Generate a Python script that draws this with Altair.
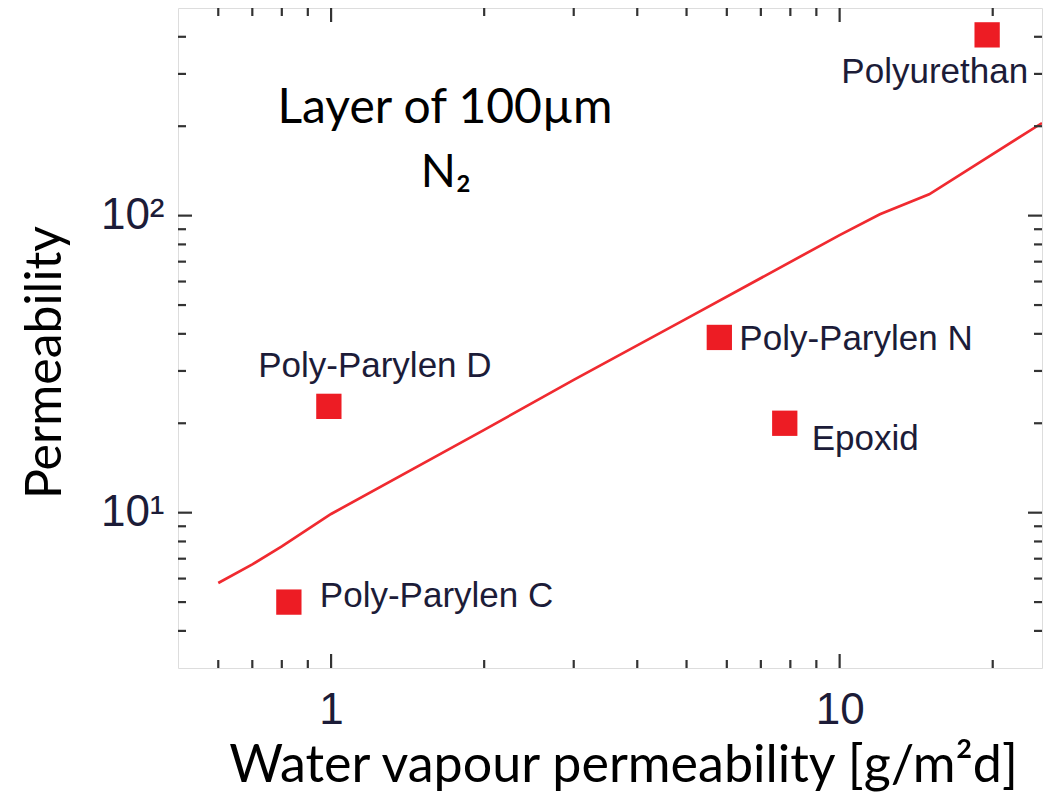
import altair as alt
import pandas as pd

# --- data ---
materials = ["Poly-Parylen C", "Poly-Parylen D", "Poly-Parylen N", "Epoxid", "Polyurethan"]
water_perm = [0.826, 0.99, 5.8, 7.8, 19.5]
n2_perm = [5.0, 22.8, 38.9, 20.0, 406.0]

line_x = [0.6, 0.7, 0.8, 1, 2, 3, 5, 10, 12, 15, 25]
line_y = [5.8, 6.7, 7.7, 9.9, 19.0, 28.0, 45.0, 86.0, 101.0, 118.0, 205.0]

x_major = [1, 10]
x_minor = [0.6, 0.7, 0.8, 0.9, 2, 3, 4, 5, 6, 7, 8, 9, 20]
y_major = [10, 100]
y_minor = [4, 5, 6, 7, 8, 9, 20, 30, 40, 50, 60, 70, 80, 90, 200, 300, 400]

x_tick_labels = {1: "1", 10: "10"}
y_tick_labels = {10: "10¹", 100: "10²"}

annotation_lines = ["Layer of 100µm", "N₂"]

W, H = 864, 660
RED = "#ed1c24"
LABEL_COLOR = "#1c1c38"

pts = pd.DataFrame({"x": water_perm, "y": n2_perm, "name": materials})
line_df = pd.DataFrame({"x": line_x, "y": line_y})
xmaj = pd.DataFrame({"x": x_major})
xmin = pd.DataFrame({"x": x_minor})
ymaj = pd.DataFrame({"y": y_major})
ymin = pd.DataFrame({"y": y_minor})
one = pd.DataFrame({"k": [0]})

xscale = alt.Scale(type="log", domain=[0.5, 25], nice=False)
yscale = alt.Scale(type="log", domain=[3, 500], nice=False)

xlabel_expr = " : ".join(
    [f"datum.value == {k} ? '{v}'" for k, v in x_tick_labels.items()] + ["''"]
)
ylabel_expr = " : ".join(
    [f"datum.value == {k} ? '{v}'" for k, v in y_tick_labels.items()] + ["''"]
)

TICK_FONT = "Liberation Sans, Arial"
TITLE_FONT = "Lato, Open Sans, sans-serif"

xaxis = alt.Axis(
    values=x_major, labelExpr=xlabel_expr, ticks=False, domain=False, grid=False,
    labelFont=TICK_FONT, labelFontSize=44, labelColor=LABEL_COLOR, labelPadding=20,
    title="Water vapour permeability [g/m²d]", titleFont=TITLE_FONT, titleFontSize=52,
    titleFontWeight="normal", titleColor="black", titleX=445, titleY=113,
    titleAlign="center", titleBaseline="alphabetic",
)
yaxis = alt.Axis(
    values=y_major, labelExpr=ylabel_expr, ticks=False, domain=False, grid=False,
    labelFont=TICK_FONT, labelFontSize=44, labelColor=LABEL_COLOR, labelPadding=14,
    labelBaseline="middle",
    title="Permeability", titleFont=TITLE_FONT, titleFontSize=50,
    titleFontWeight="normal", titleColor="black", titleAngle=-90,
    titleX=-118, titleY=354, titleAlign="center", titleBaseline="alphabetic",
)

X = alt.X("x:Q", scale=xscale, axis=xaxis)
Y = alt.Y("y:Q", scale=yscale, axis=yaxis)

line = alt.Chart(line_df).mark_line(color="#f02a30", strokeWidth=2.7, clip=True).encode(x=X, y=Y)
squares = alt.Chart(pts).mark_point(shape="square", filled=True, size=640, color=RED, opacity=1).encode(x=X, y=Y)

def label(name, align, dx, dy):
    return (
        alt.Chart(pts)
        .transform_filter(alt.datum.name == name)
        .mark_text(align=align, baseline="alphabetic", dx=dx, dy=dy,
                   font="Liberation Sans, Arial", fontSize=35, color=LABEL_COLOR)
        .encode(x=X, y=Y, text="name:N")
    )

labels = [
    label("Poly-Parylen C", "left", 31, 5),
    label("Poly-Parylen D", "center", 46, -29),
    label("Poly-Parylen N", "left", 20, 13),
    label("Epoxid", "left", 27, 27),
    label("Polyurethan", "right", 41, 48),
]

TL_MAJ, TL_MIN = 14, 8
TICK_COLOR = "#333333"
def xticks(df, L):
    bottom = alt.Chart(df).mark_rule(color=TICK_COLOR, strokeWidth=2.2).encode(
        x=X, y=alt.value(H), y2=alt.value(H - L))
    top = alt.Chart(df).mark_rule(color=TICK_COLOR, strokeWidth=2.2).encode(
        x=X, y=alt.value(0), y2=alt.value(L))
    return [bottom, top]

def yticks(df, L):
    left = alt.Chart(df).mark_rule(color=TICK_COLOR, strokeWidth=2.2).encode(
        y=Y, x=alt.value(0), x2=alt.value(L))
    right = alt.Chart(df).mark_rule(color=TICK_COLOR, strokeWidth=2.2).encode(
        y=Y, x=alt.value(W), x2=alt.value(W - L))
    return [left, right]

annot1 = alt.Chart(one).mark_text(
    text=annotation_lines[0], font=TITLE_FONT, fontSize=48, color="black",
    align="center", baseline="alphabetic").encode(x=alt.value(267), y=alt.value(115))
annot2 = alt.Chart(one).mark_text(
    text=annotation_lines[1], font=TITLE_FONT, fontSize=46, color="black",
    align="center", baseline="alphabetic").encode(x=alt.value(268), y=alt.value(179))

layers = ([line, squares] + labels + xticks(xmaj, TL_MAJ) + xticks(xmin, TL_MIN)
          + yticks(ymaj, TL_MAJ) + yticks(ymin, TL_MIN) + [annot1, annot2])

chart = alt.layer(*layers).properties(
    width=W, height=H,
    autosize=alt.AutoSizeParams(type="none"),
    padding={"left": 170, "top": 0, "right": 8, "bottom": 126},
).configure_view(stroke="#333333", strokeWidth=2.5).configure(background="white")

chart.save("out.html", embed_options={"renderer": "svg", "actions": False})
